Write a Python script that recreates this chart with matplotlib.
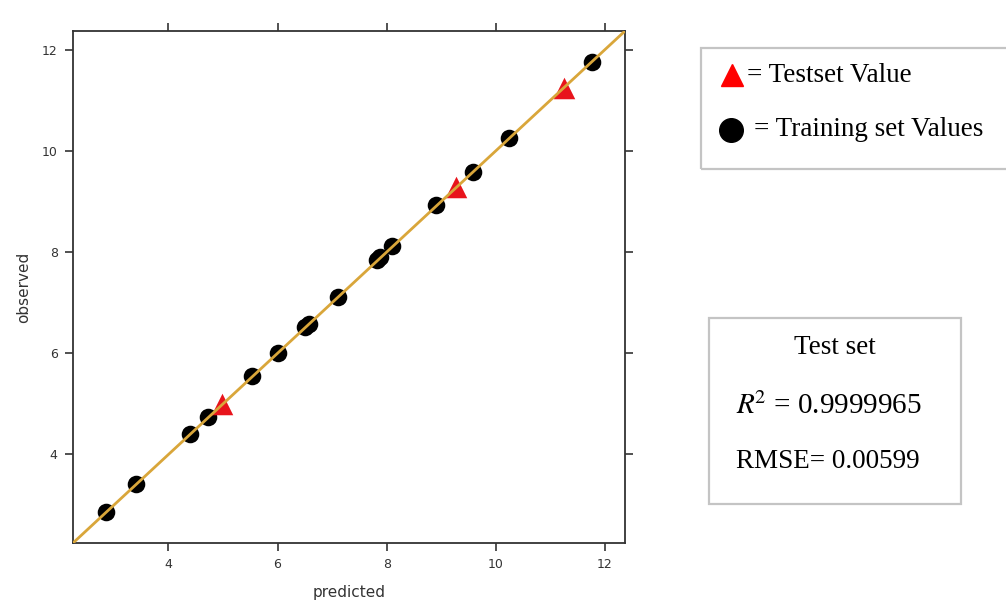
import numpy as np
import matplotlib.pyplot as plt
from matplotlib.patches import Rectangle
from matplotlib.lines import Line2D

# ==========================================
# DATA
# ==========================================
train_pred = [2.86, 3.40, 4.40, 4.73, 5.54, 6.00, 6.50, 6.58, 7.10, 7.82, 7.88, 8.10, 8.90, 9.58, 10.24, 11.76]
train_obs = [2.87, 3.42, 4.41, 4.74, 5.55, 6.01, 6.52, 6.58, 7.12, 7.84, 7.90, 8.12, 8.93, 9.58, 10.26, 11.76]
test_pred = [4.99, 9.28, 11.25]
test_obs = [5.00, 9.29, 11.24]
ticks = [4, 6, 8, 10, 12]
lims = [2.25, 12.37]

r2_text = r'$R^{\!2}$ = 0.9999965'
rmse_text = 'RMSE= 0.00599'

# ==========================================
# PLOT
# ==========================================
plt.rcParams['mathtext.fontset'] = 'stix'
W, H = 1006, 600
fig = plt.figure(figsize=(W / 100, H / 100), dpi=100)
ax = fig.add_axes([73 / W, 1 - 543 / H, 552 / W, 512 / H])

ax.scatter(train_pred, train_obs, s=160, color='black', zorder=2, linewidths=0)
ax.scatter(test_pred, test_obs, s=240, marker='^', color='#e8141c', zorder=2, linewidths=0)
ax.plot(lims, lims, color='#d9a63a', lw=2.0, zorder=3)

ax.set_xlim(lims)
ax.set_ylim(lims)
ax.set_xticks(ticks)
ax.set_yticks(ticks)
ax.tick_params(top=True, right=True, direction='out', length=6, width=1.2,
               labelsize=9, colors='#333333', pad=5)
for s in ax.spines.values():
    s.set_color('#333333')
    s.set_linewidth(1.3)
ax.set_xlabel('predicted', fontsize=11, color='#333333', labelpad=10)
ax.set_ylabel('observed', fontsize=11, color='#333333', labelpad=8)

# legend-like boxes drawn on the figure
def px(x, y):
    return x / W, 1 - y / H

serif = 'Liberation Serif'
fs = 19.5

x0, y0 = px(701, 169)
fig.add_artist(Rectangle((x0, y0), (1010 - 701) / W, (169 - 48) / H,
                         transform=fig.transFigure, fill=False,
                         edgecolor='#c4c4c4', lw=1.6))
mx, my = px(732, 75)
fig.add_artist(Line2D([mx], [my], marker='^', markersize=16, color='#ff0000',
                      transform=fig.transFigure, linestyle='none'))
mx, my = px(731, 130)
fig.add_artist(Line2D([mx], [my], marker='o', markersize=17, color='black',
                      transform=fig.transFigure, linestyle='none'))
fig.text(*px(747, 75), '= Testset Value', family=serif, fontsize=fs, va='center')
fig.text(*px(754, 130), '= Training set Values', family=serif, fontsize=fs, va='center')

x0, y0 = px(709, 504)
fig.add_artist(Rectangle((x0, y0), (961 - 709) / W, (504 - 318) / H,
                         transform=fig.transFigure, fill=False,
                         edgecolor='#c4c4c4', lw=1.6))
fig.text(*px(835, 347), 'Test set', family=serif, fontsize=fs, va='center', ha='center')
fig.text(*px(736, 406), r2_text, family=serif, fontsize=21, va='center')
fig.text(*px(736, 462), rmse_text, family=serif, fontsize=fs, va='center')

plt.savefig('out.png', dpi=100)
